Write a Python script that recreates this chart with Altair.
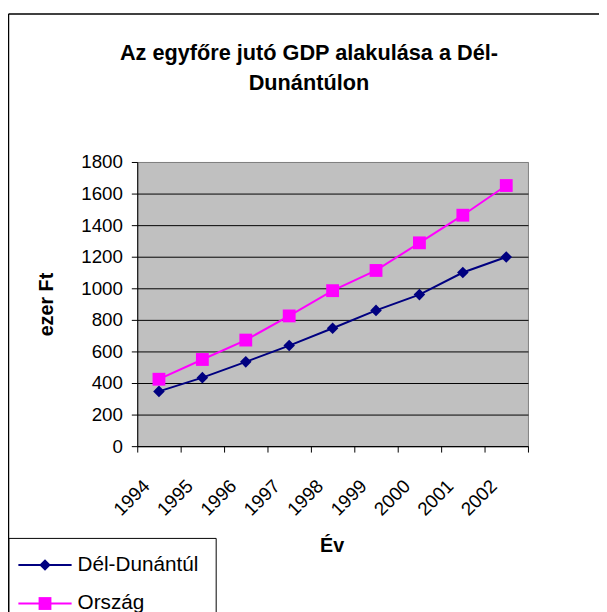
import altair as alt
import pandas as pd

years = ["1994", "1995", "1996", "1997", "1998", "1999", "2000", "2001", "2002"]
del_dunantul = [347, 434, 534, 637, 747, 860, 960, 1100, 1198]
orszag = [424, 549, 672, 825, 985, 1113, 1288, 1463, 1651]
series_names = ["Dél-Dunántúl", "Ország"]
series_colors = ["#000080", "#FF00FF"]
y_ticks = [0, 200, 400, 600, 800, 1000, 1200, 1400, 1600, 1800]
title_lines = ["Az egyfőre jutó GDP alakulása a Dél-", "Dunántúlon"]

FONT = "Liberation Sans"

df = pd.DataFrame({
    "Év": years * 2,
    "ertek": del_dunantul + orszag,
    "sorozat": [series_names[0]] * len(years) + [series_names[1]] * len(years),
})
df["sorozat2"] = df["sorozat"]

diamond = "M0,-0.9L0.9,0L0,0.9L-0.9,0Z"
square = "M-1,-1L1,-1L1,1L-1,1Z"
legend_line = "M-4.15,0L4.15,0"

x_enc = alt.X(
    "Év:N",
    sort=years,
    scale=alt.Scale(type="band", paddingInner=0, paddingOuter=0),
    axis=alt.Axis(
        title="Év", labelAngle=-45, labelAlign="right", labelBaseline="middle",
        labelFontSize=19, labelFont=FONT, labelColor="black",
        labelPadding=31, labelOffset=-13, tickBand="extent", tickSize=6,
        tickColor="black", domainColor="black", grid=False,
        titleFont=FONT, titleFontSize=20, titleFontWeight="bold",
        titleColor="black", titleX=197, titleY=101, titleBaseline="middle",
        titleAlign="center",
    ),
)
y_enc = alt.Y(
    "ertek:Q",
    scale=alt.Scale(domain=[0, 1800], nice=False),
    axis=alt.Axis(
        title="ezer Ft", values=y_ticks, format="d", labelFontSize=19, labelFont=FONT,
        labelColor="black", labelPadding=9, tickSize=6, tickColor="black",
        domainColor="black", grid=True,
        gridColor={"condition": {"test": "datum.value == 1800", "value": "#808080"}, "value": "black"},
        gridOpacity=1, titleFont=FONT, titleFontSize=20, titleFontWeight="bold",
        titleColor="black", titleX=-92, titleY=144, titleBaseline="middle",
        titleAngle=-90, titleAlign="center",
    ),
)

LEG_X = -130.5
LEG_Y = 381
common = dict(
    title=None, orient="none", legendX=LEG_X, legendY=LEG_Y, padding=17,
    labelFont=FONT, labelFontSize=21, labelColor="black",
    symbolSize=169, symbolOffset=9.5, labelOffset=22.5, rowPadding=17,
)
legend_lines = alt.Legend(
    fillColor="white", strokeColor="black", symbolType=legend_line,
    symbolStrokeWidth=2, **common
)
legend_marks = alt.Legend(
    fillColor="transparent", strokeColor="transparent", labelOpacity=0,
    symbolStrokeWidth=0, **common
)

base = alt.Chart(df)
lines = base.mark_line(strokeWidth=2).encode(
    x=x_enc, y=y_enc,
    color=alt.Color("sorozat:N", scale=alt.Scale(range=series_colors), legend=legend_lines),
)
points = base.mark_point(filled=True, size=169, opacity=1, strokeWidth=0).encode(
    x=x_enc,
    y=y_enc,
    fill=alt.Fill("sorozat2:N", scale=alt.Scale(range=series_colors), legend=legend_marks),
    shape=alt.Shape("sorozat2:N", scale=alt.Scale(range=[diamond, square]), legend=legend_marks),
)

frame_df = pd.DataFrame({"k": [0]})
frame_left = alt.Chart(frame_df).mark_rule(color="black", strokeWidth=1.5).encode(
    x=alt.value(-130.5), y=alt.value(-150), y2=alt.value(470)
)
frame_top = alt.Chart(frame_df).mark_rule(color="black", strokeWidth=1.5).encode(
    x=alt.value(-130.5), x2=alt.value(480), y=alt.value(-150)
)

chart = alt.layer(lines, points, frame_left, frame_top).properties(
    width=396,
    height=288,
    autosize=alt.AutoSizeParams(type="none"),
    padding={"left": 131, "top": 152, "right": 72, "bottom": 164},
    background="white",
    title=alt.TitleParams(
        text=title_lines, font=FONT, fontSize=22, fontWeight="bold",
        color="black", anchor="middle", frame="group", dx=-24, offset=-82.5,
        lineHeight=30,
    ),
).configure_view(
    fill="#C0C0C0", stroke="#808080", strokeWidth=1
)

chart.save("out.html", embed_options={"renderer": "svg", "actions": False})
